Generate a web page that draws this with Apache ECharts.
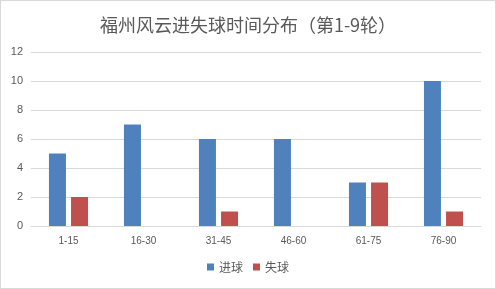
<!DOCTYPE html>
<html><head><meta charset="utf-8">
<script src="https://cdn.jsdelivr.net/npm/echarts@6/dist/echarts.min.js"></script>
<style>html,body{margin:0;padding:0;background:#fff}#c{width:494px;height:287px;border:1px solid #d9d9d9}</style>
</head><body><div id="c"></div>
<script>
const categories = ['1-15','16-30','31-45','46-60','61-75','76-90'];
const goalsFor = [5,7,6,6,3,10];
const goalsAgainst = [2,0,1,0,3,1];
const chart = echarts.init(document.getElementById('c'));
chart.setOption({
  animation:false,
  title:{text:'福州风云进失球时间分布（第1-9轮）',left:'center',top:10,textStyle:{fontFamily:'Noto Sans CJK SC',fontSize:18,fontWeight:'normal',color:'#595959'}},
  legend:{bottom:10,itemWidth:7,itemHeight:7,itemGap:10,icon:'rect',textStyle:{fontFamily:'Noto Sans CJK SC',fontSize:12,color:'#595959'},data:['进球','失球']},
  grid:{left:30,right:14,top:51,bottom:62,containLabel:false},
  xAxis:{type:'category',data:categories,axisTick:{show:false},axisLine:{lineStyle:{color:'#d9d9d9'}},axisLabel:{color:'#595959',fontSize:10,fontFamily:'Liberation Sans',margin:10}},
  yAxis:{type:'value',min:0,max:12,interval:2,axisLine:{show:false},axisTick:{show:false},splitLine:{lineStyle:{color:'#d9d9d9'}},axisLabel:{color:'#595959',fontSize:11,fontFamily:'Liberation Sans',margin:8}},
  series:[
    {name:'进球',type:'bar',data:goalsFor,barWidth:17,barGap:'30%',itemStyle:{color:'#4F81BD'}},
    {name:'失球',type:'bar',data:goalsAgainst,barWidth:17,barGap:'30%',itemStyle:{color:'#C0504D'}}
  ]
});
</script></body></html>
